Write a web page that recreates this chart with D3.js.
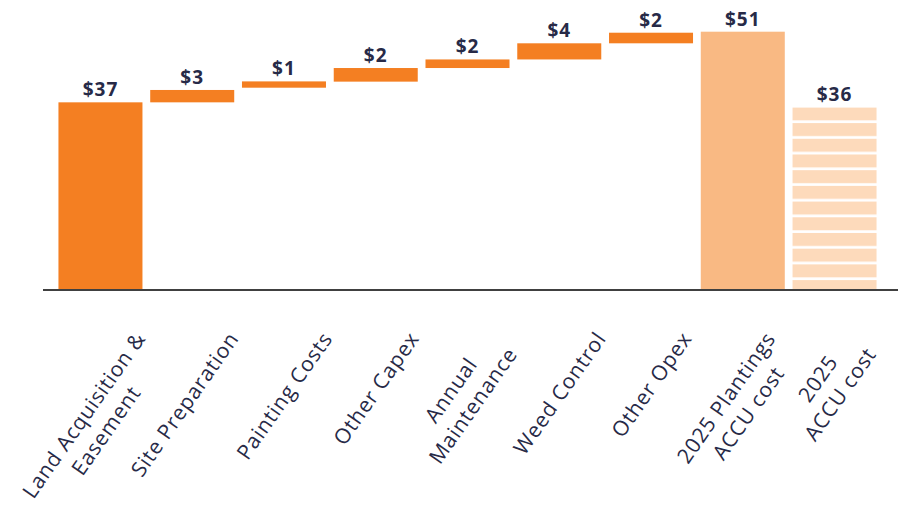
<!DOCTYPE html>
<html>
<head>
<meta charset="utf-8">
<script src="https://cdn.jsdelivr.net/npm/d3@7"></script>
<style>
  body { margin: 0; background: #fff; }
  text { font-family: "Open Sans", sans-serif; fill: #272a47; }
</style>
</head>
<body>
<div id="chart"></div>
<script>
// categories (line breaks as in the chart)
var categories = [
    ["Land Acquisition &", "Easement"],
    ["Site Preparation"],
    ["Painting Costs"],
    ["Other Capex"],
    ["Annual", "Maintenance"],
    ["Weed Control"],
    ["Other Opex"],
    ["2025 Plantings", "ACCU cost"],
    ["2025", "ACCU cost"]
];
// waterfall: where each bar starts and ends ($)
var barStart = [0, 37, 39.9, 41.1, 43.8, 45.5, 48.7, 0, 0];
var barEnd = [37, 39.45, 41.15, 43.8, 45.5, 48.7, 50.8, 51, 36];
var valueLabels = ["$37", "$3", "$1", "$2", "$2", "$4", "$2", "$51", "$36"];
var barKind = ["step", "step", "step", "step", "step", "step", "step", "total", "accu"];

var svg = d3.select("#chart").append("svg").attr("width", 898).attr("height", 509),
    baseY = 289;

var x = d3.scaleBand()
    .domain(d3.range(categories.length))
    .range([54.6, 880.4])
    .paddingInner(0.0845)
    .paddingOuter(0.042);

var y = d3.scaleLinear().domain([0, 51]).range([baseY, 31.7]);

// horizontal stripes for the last bar
var defs = svg.append("defs");
var pat = defs.append("pattern")
    .attr("id", "stripes")
    .attr("patternUnits", "userSpaceOnUse")
    .attr("width", 10)
    .attr("height", 15.7)
    .attr("y", y(barEnd[8]));
pat.append("rect").attr("width", 10).attr("height", 13).attr("fill", "#fddabb");

var fills = { step: "#f47f22", total: "#f9b983", accu: "url(#stripes)" };

svg.append("g")
    .selectAll("rect")
    .data(categories)
    .enter().append("rect")
    .attr("x", function(d, i) { return x(i); })
    .attr("width", x.bandwidth())
    .attr("y", function(d, i) { return y(barEnd[i]); })
    .attr("height", function(d, i) { return y(barStart[i]) - y(barEnd[i]); })
    .attr("fill", function(d, i) { return fills[barKind[i]]; });

// value labels
svg.append("g")
    .selectAll("text")
    .data(valueLabels)
    .enter().append("text")
    .attr("x", function(d, i) { return x(i) + x.bandwidth() / 2; })
    .attr("y", function(d, i) { return y(barEnd[i]) - 6; })
    .attr("text-anchor", "middle")
    .style("font-size", "19px")
    .style("font-weight", "700")
    .style("letter-spacing", "1px")
    .text(function(d) { return d; });

// axis line
svg.append("line")
    .attr("x1", 43).attr("x2", 898)
    .attr("y1", baseY + 1).attr("y2", baseY + 1)
    .style("stroke", "#404040")
    .style("stroke-width", 2);

// rotated category labels, box centred under each bar
categories.forEach(function(lines, i) {
    var g = svg.append("g");
    var t = g.append("g").attr("transform", "rotate(-55)")
        .append("text")
        .attr("text-anchor", "middle")
        .style("font-size", "21px")
        .style("letter-spacing", "0.8px");
    lines.forEach(function(l, j) {
        t.append("tspan").attr("x", 0).attr("dy", j ? 27 : 0).text(l);
    });
    var bb = g.node().getBBox();
    var cx = x(i) + x.bandwidth() / 2 - (lines.length > 1 ? 6 : 0) - (i == 1 ? 8 : 0);
    g.attr("transform", "translate(" + (cx - (bb.x + bb.width / 2)) + "," + (326 - bb.y) + ")");
});
</script>
</body>
</html>
